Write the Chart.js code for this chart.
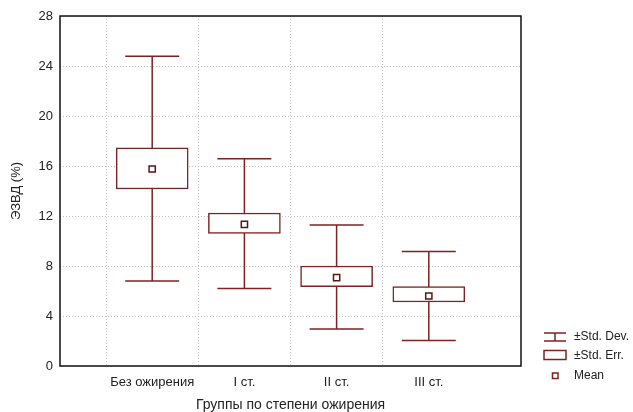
<!DOCTYPE html>
<html lang="ru">
<head>
  <meta charset="UTF-8" />
  <title>ЭЗВД по группам</title>
  <script src="https://cdn.jsdelivr.net/npm/chart.js"></script>
  <style>
    html, body { margin: 0; padding: 0; background: #fff; }
    #wrap { width: 633px; height: 412px; }
  </style>
</head>
<body>
  <div id="wrap"><canvas id="chart" width="633" height="412"></canvas></div>

  <script>
    // data
    const categories = ['Без ожирения', 'I ст.', 'II ст.', 'III ст.'];
    const means = [15.76, 11.33, 7.07, 5.6];
    const seLow = [14.16, 10.61, 6.35, 5.12];
    const seHigh = [17.46, 12.24, 8.0, 6.35];
    const sdLow = [6.8, 6.21, 2.96, 2.05];
    const sdHigh = [24.78, 16.58, 11.28, 9.17];
    const yTicks = [0, 4, 8, 12, 16, 20, 24, 28];

    const maroon = '#7d2222';
    const font = 'Liberation Sans, Arial, sans-serif';

    // ±Std. Dev. whiskers, drawn under the boxes
    const whiskers = {
      id: 'whiskers',
      beforeDatasetsDraw(chart) {
        const { ctx, scales: { x, y } } = chart;
        ctx.save();
        ctx.strokeStyle = maroon;
        ctx.lineWidth = 1.5;
        categories.forEach((c, i) => {
          const px = x.getPixelForValue(i + 1);
          const top = y.getPixelForValue(sdHigh[i]);
          const bot = y.getPixelForValue(sdLow[i]);
          ctx.beginPath();
          ctx.moveTo(px, top); ctx.lineTo(px, bot);
          ctx.moveTo(px - 27, top); ctx.lineTo(px + 27, top);
          ctx.moveTo(px - 27, bot); ctx.lineTo(px + 27, bot);
          ctx.stroke();
        });
        ctx.restore();
      }
    };

    // plot frame + legend
    const frame = {
      id: 'frame',
      afterDraw(chart) {
        const { ctx, chartArea: a } = chart;
        ctx.save();
        ctx.strokeStyle = '#111';
        ctx.lineWidth = 1.5;
        ctx.strokeRect(a.left, a.top, a.right - a.left, a.bottom - a.top);

        // legend
        ctx.strokeStyle = maroon;
        ctx.lineWidth = 1.5;
        ctx.beginPath();
        ctx.moveTo(544, 333); ctx.lineTo(566, 333);
        ctx.moveTo(555, 333); ctx.lineTo(555, 341);
        ctx.moveTo(544, 341); ctx.lineTo(566, 341);
        ctx.stroke();
        ctx.strokeRect(544, 350.5, 22, 9);
        ctx.strokeRect(552.5, 373, 5.5, 5.5);

        ctx.fillStyle = '#222';
        ctx.font = '12px ' + font;
        ctx.textBaseline = 'middle';
        ctx.fillText('±Std. Dev.', 574, 337);
        ctx.fillText('±Std. Err.', 574, 355.5);
        ctx.fillText('Mean', 574, 376);
        ctx.restore();
      }
    };

    const ctx = document.getElementById('chart').getContext('2d');
    new Chart(ctx, {
      type: 'bar',
      data: {
        datasets: [
          {
            label: '±Std. Err.',
            data: categories.map((c, i) => ({ x: i + 1, y: [seLow[i], seHigh[i]] })),
            backgroundColor: '#ffffff',
            borderColor: maroon,
            borderWidth: 1.5,
            borderSkipped: false,
            barThickness: 72,
            order: 2
          },
          {
            type: 'scatter',
            label: 'Mean',
            data: categories.map((c, i) => ({ x: i + 1, y: means[i] })),
            pointStyle: 'rect',
            pointRadius: 4.4,
            backgroundColor: '#ffffff',
            borderColor: '#5a1515',
            borderWidth: 1.5,
            order: 1
          }
        ]
      },
      options: {
        responsive: false,
        animation: false,
        layout: { padding: { left: 0, right: 112, top: 16, bottom: 0 } },
        plugins: {
          legend: { display: false },
          tooltip: { enabled: false }
        },
        scales: {
          x: {
            type: 'linear',
            min: 0,
            max: 5,
            offset: false,
            afterFit: s => { s.height = 46; },
            ticks: {
              stepSize: 1,
              autoSkip: false,
              maxRotation: 0,
              padding: 9,
              color: '#222',
              font: { family: font, size: 13 },
              callback: v => categories[v - 1] || ''
            },
            grid: {
              drawTicks: false,
              color: c => (c.tick && (c.tick.value === 0 || c.tick.value === 5)) ? 'rgba(0,0,0,0)' : '#c4c4c4',
              lineWidth: 1
            },
            border: { display: false, dash: [1, 2] },
            title: {
              display: true,
              text: 'Группы по степени ожирения',
              color: '#222',
              font: { family: font, size: 14, lineHeight: 1 },
              padding: { top: 0, bottom: 0 }
            }
          },
          y: {
            min: 0,
            max: 28,
            afterFit: s => { s.width = 60; },
            afterBuildTicks: s => { s.ticks = yTicks.map(v => ({ value: v })); },
            ticks: {
              padding: 7,
              color: '#222',
              font: { family: font, size: 13 }
            },
            grid: {
              drawTicks: false,
              color: '#c4c4c4',
              lineWidth: 1
            },
            border: { display: false, dash: [1, 2] },
            title: {
              display: true,
              text: 'ЭЗВД (%)',
              color: '#222',
              font: { family: font, size: 13 },
              padding: { top: 9, bottom: 0 }
            }
          }
        }
      },
      plugins: [whiskers, frame]
    });
  </script>
</body>
</html>
